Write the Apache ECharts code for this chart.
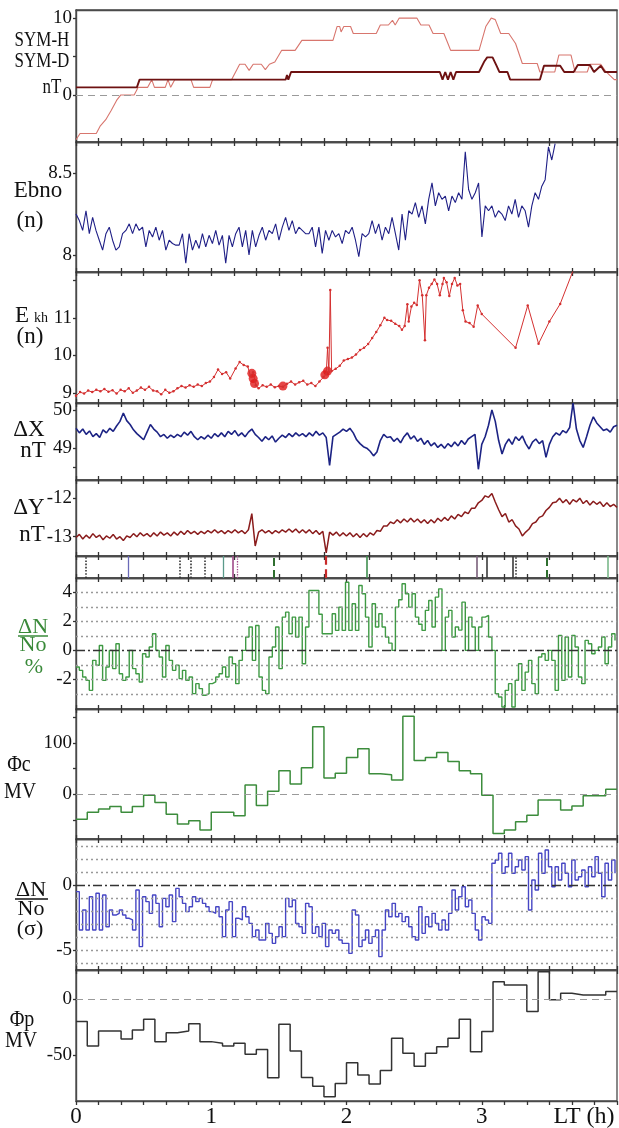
<!DOCTYPE html>
<html>
<head>
<meta charset="utf-8">
<script src="https://cdn.jsdelivr.net/npm/echarts@6/dist/echarts.min.js"></script>
<style>
  html, body { margin: 0; padding: 0; background: #fff; }
  #chart { width: 619px; height: 1128px; }
</style>
</head>
<body>
<div id="chart"></div>
<script>
// ---------- data (time in hours LT) ----------
const SYM_H = [[0,-5.8],[0.03,-5],[0.15,-5],[0.18,-4],[0.22,-3.2],[0.26,-2],[0.3,-0.7],[0.33,0],[0.43,0],[0.46,1],[0.53,1],[0.56,2],[0.58,1],[0.66,1],[0.68,2],[0.7,1],[0.73,2],[0.85,2],[0.87,1],[0.99,1],[1.01,2],[1.15,2],[1.18,3],[1.21,4],[1.25,4],[1.28,3.2],[1.31,4],[1.37,4],[1.4,3.3],[1.43,4],[1.47,4.3],[1.52,5.8],[1.62,5.8],[1.67,7.1],[1.9,7.1],[1.93,8.9],[1.95,8.9],[1.96,8.2],[1.98,8.9],[2.03,8.9],[2.05,8],[2.22,8],[2.25,9.1],[2.31,9.1],[2.34,9.7],[2.36,9.1],[2.39,10],[2.52,10],[2.55,9.1],[2.61,9.1],[2.64,8],[2.72,8],[2.75,6.7],[2.77,5.8],[2.98,5.8],[3.03,8.9],[3.07,10],[3.1,9.8],[3.14,8],[3.2,8],[3.25,6.7],[3.3,4.1],[3.41,4.1],[3.43,3],[3.54,3],[3.57,5.2],[3.66,5.2],[3.69,3],[3.78,3],[3.8,4],[3.88,4],[3.92,3],[3.98,2],[4,2]];
const SYM_D = [[0,1],[0.45,1],[0.47,2],[1.55,2],[1.56,2.6],[1.57,2],[1.59,3],[2.69,3],[2.71,2],[2.73,3],[2.75,2],[2.77,3],[2.79,2],[2.81,3],[2.98,3],[3.02,4.4],[3.04,4.9],[3.08,4.9],[3.11,3.8],[3.13,3],[3.19,3],[3.21,2],[3.43,2],[3.46,3.8],[3.58,3.8],[3.61,3],[3.68,3],[3.71,3.9],[3.8,3.9],[3.83,3],[3.88,3.8],[3.91,3],[4,3]];

// sampled series: one value every SAMPLE_DT hours from 0
const SAMPLE_DT = 0.0246;
const EBNO = [8.25,8.21,8.15,8.27,8.13,8.23,8.15,8.09,8.03,8.13,8.17,8.09,8.03,8.05,8.13,8.15,8.19,8.13,8.19,8.15,
  8.17,8.05,8.15,8.11,8.17,8.09,8.15,8.03,8.09,8.07,8.06,8.06,8.13,7.95,8.13,8.03,8.09,8.04,8.13,8.05,
  8.12,8.07,8.15,8.06,8.12,7.95,8.12,8.05,8.13,8.17,8.05,8.15,8.00,8.15,8.05,8.12,8.17,8.09,8.15,8.13,
  8.19,8.09,8.17,8.23,8.15,8.21,8.13,8.17,8.15,8.13,
  8.13,8.17,8.05,8.17,8.01,8.15,8.09,8.15,8.11,8.13,8.07,8.15,8.13,8.17,8.09,7.99,8.13,8.11,8.13,8.21,
  8.13,8.19,8.09,8.17,8.13,8.23,8.13,8.03,8.25,8.09,8.27,8.25,8.32,8.23,8.30,8.19,8.34,8.44,8.30,8.38,
  8.34,8.36,8.27,8.36,8.32,8.38,8.34,8.63,8.40,8.34,8.38,8.44,8.11,8.30,8.27,8.30,8.23,8.27,8.25,8.21,
  8.30,8.25,8.34,8.23,8.30,8.27,8.17,8.30,8.38,8.34,8.42,8.46,8.66,8.58,8.68];

const EKH = [[0,8.92],[0.03,9.02],[0.06,8.98],[0.09,9.06],[0.12,9.02],[0.15,9.08],[0.18,9.04],[0.21,9.1],[0.24,9.03],[0.27,9.07],[0.3,8.98],[0.33,9.08],[0.36,9.04],[0.39,9.12],[0.42,9.0],[0.45,9.06],[0.48,9.14],[0.51,9.08],[0.54,9.16],[0.57,9.06],[0.6,9.04],[0.63,8.96],[0.66,9.08],[0.69,9.0],[0.72,9.04],[0.75,9.12],[0.78,9.18],[0.81,9.14],[0.84,9.2],[0.87,9.16],[0.9,9.22],[0.93,9.18],[0.96,9.26],[0.99,9.3],[1.02,9.42],[1.05,9.62],[1.08,9.5],[1.11,9.55],[1.14,9.38],[1.18,9.65],[1.21,9.82],[1.24,9.74],[1.27,9.7],[1.29,9.45],[1.31,9.55],[1.33,9.2],[1.35,9.12],[1.38,9.2],[1.41,9.16],[1.44,9.22],[1.47,9.15],[1.5,9.18],[1.53,9.16],[1.56,9.24],[1.59,9.3],[1.62,9.22],[1.65,9.28],[1.68,9.32],[1.71,9.22],[1.74,9.26],[1.77,9.18],[1.8,9.3],[1.83,9.42],[1.85,9.5],[1.86,10.2],[1.87,9.55],[1.88,11.74],[1.89,9.58],[1.92,9.64],[1.95,9.72],[1.98,9.86],[2.01,9.9],[2.04,9.94],[2.07,10.02],[2.1,10.14],[2.13,10.2],[2.16,10.3],[2.19,10.46],[2.22,10.62],[2.25,10.8],[2.28,11.0],[2.3,10.94],[2.33,10.92],[2.36,10.84],[2.39,10.78],[2.41,10.68],[2.43,10.78],[2.45,11.36],[2.46,10.9],[2.48,11.3],[2.5,11.4],[2.52,11.34],[2.54,12.0],[2.56,11.6],[2.58,10.4],[2.59,11.6],[2.61,11.8],[2.63,11.9],[2.65,12.02],[2.67,11.9],[2.69,11.6],[2.71,11.9],[2.72,12.06],[2.74,11.95],[2.76,11.58],[2.78,11.9],[2.8,12.06],[2.82,11.86],[2.84,11.9],[2.86,11.2],[2.88,10.9],[2.91,10.86],[2.94,10.76],[2.97,11.33],[3.0,11.1],[3.25,10.2],[3.34,11.33],[3.42,10.31],[3.5,10.9],[3.58,11.37],[3.68,12.3]];
const EKH_BLOBS = [[1.3,9.52],[1.31,9.38],[1.32,9.25],[1.53,9.18],[1.84,9.48],[1.86,9.58]];

// magnetometer, one value every MAG_DT hours from 0
const MAG_DT = 0.025;
const DELTA_X = [49.52,49.40,49.50,49.36,49.45,49.30,49.38,49.28,49.48,49.40,49.52,49.44,49.58,49.70,49.92,49.72,49.62,49.48,49.38,49.30,
  49.22,49.42,49.62,49.50,49.42,49.30,49.36,49.26,49.34,49.28,49.36,49.30,49.42,49.34,49.44,49.30,49.22,49.30,49.24,49.34,
  49.26,49.38,49.30,49.40,49.30,49.44,49.36,49.46,49.32,49.40,49.30,49.42,49.50,49.36,49.28,49.18,49.30,49.22,49.32,49.16,
  49.26,49.34,49.28,49.38,49.30,49.40,49.32,49.38,49.30,49.40,49.32,49.44,49.34,49.40,49.28,48.55,49.30,49.36,49.42,49.50,
  49.44,49.52,49.40,49.22,49.12,49.04,49.00,48.92,48.80,48.90,49.20,49.36,49.28,49.30,49.18,49.26,49.14,49.30,49.40,49.24,
  49.32,49.18,49.26,49.10,49.20,49.06,49.14,49.02,49.10,49.00,49.12,49.04,49.16,49.06,49.20,49.10,49.24,49.30,49.36,48.45,
  49.10,49.30,49.60,50.00,49.70,49.20,48.85,49.10,49.24,49.10,49.30,49.20,49.32,49.12,48.98,49.16,49.24,49.12,49.20,48.76,
  49.10,49.30,49.40,49.34,49.46,49.40,49.54,50.18,49.50,49.20,49.02,49.30,49.60,49.82,49.66,49.56,49.46,49.50,49.42,49.56,49.60];
const DELTA_Y = [-13.02,-12.94,-13.06,-12.96,-13.04,-12.92,-13.02,-12.96,-13.08,-12.98,-13.04,-12.94,-13.06,-13.00,-13.10,-12.98,-13.02,-12.92,-13.00,-12.90,
  -12.98,-12.92,-13.00,-12.90,-12.98,-12.88,-12.96,-12.90,-12.98,-12.88,-12.96,-12.86,-12.94,-12.84,-12.92,-12.86,-12.94,-12.86,-12.92,-12.84,
  -12.90,-12.82,-12.90,-12.84,-12.92,-12.84,-12.90,-12.82,-12.90,-12.84,-12.92,-12.82,-12.40,-13.24,-12.88,-12.82,-12.90,-12.84,-12.92,-12.84,
  -12.90,-12.82,-12.88,-12.80,-12.88,-12.80,-12.90,-12.82,-12.90,-12.82,-12.92,-12.84,-12.94,-12.86,-13.42,-12.88,-12.96,-12.88,-12.98,-12.90,
  -12.98,-12.90,-13.00,-12.92,-13.02,-12.92,-13.00,-12.90,-12.96,-12.84,-12.86,-12.72,-12.72,-12.62,-12.66,-12.56,-12.64,-12.54,-12.62,-12.52,
  -12.62,-12.54,-12.64,-12.56,-12.66,-12.56,-12.64,-12.52,-12.60,-12.50,-12.58,-12.46,-12.54,-12.42,-12.48,-12.36,-12.40,-12.26,-12.26,-12.12,
  -12.06,-11.94,-11.98,-11.88,-12.10,-12.30,-12.48,-12.40,-12.62,-12.56,-12.72,-12.80,-12.98,-12.88,-12.80,-12.66,-12.62,-12.50,-12.46,-12.32,
  -12.24,-12.12,-12.10,-12.00,-12.12,-12.04,-12.16,-12.04,-12.10,-12.00,-12.14,-12.06,-12.18,-12.08,-12.16,-12.10,-12.22,-12.12,-12.22,-12.16,-12.24];

// event marks in the strip
const EVENT_TIMES = [0.066, 0.386, 0.768, 0.854, 0.952, 1.087, 1.156, 1.186, 1.456, 1.85, 2.15, 2.96, 3.04, 3.225, 3.245, 3.48, 3.93];
const EVENT_KINDS = ['q', 'b', 'q', 'q', 'q', 't', 'm', 'mq', 'g', 'r', 'G', 'p', 'k', 'k', 'q', 'g', 'G2'];

const DN_PCT = [-1.15,-1.38,-1.84,-2.07,-2.76,-0.69,-1.03,0.34,-2.07,-1.15,
  0,-1.26,0.46,-1.61,-2.07,-1.84,0,-1.26,-1.61,-2.18,
  -0.23,-0.46,0.23,1.15,0,-0.46,-1.84,0.34,-0.69,-1.38,
  -1.03,-1.95,-1.38,-2.07,-1.84,-2.99,-2.3,-2.64,-3.1,-2.99,
  -2.3,-2.18,-1.84,-1.61,-1.15,-1.84,-0.46,-0.92,-2.3,-0.69,
  0,0.92,1.61,-0.69,1.72,-1.84,-2.76,-2.99,-0.46,0.23,
  1.61,-1.26,2.3,2.64,1.15,2.3,0.92,2.3,-0.92,1.61,
  4.14,4.14,4.14,2.5,1.15,1.15,1.15,2.53,1.38,2.99,
  1.38,4.71,1.38,3.22,1.38,4.48,3.91,2.3,0.23,3.22,
  1.61,2.53,1.61,0.92,0.5,0,2.99,3.5,4.6,3.91,
  2.99,3.91,2.3,1.8,1.38,2.76,3.45,1.61,3.68,4.25,
  0,2.3,2.76,0.92,1.61,1.4,3.33,0,2.3,1.61,
  0,1.61,2.3,2.41,0.92,0,-2.99,-3.22,-3.91,-2.76,
  -2.3,-3.91,-2.07,-0.92,-2.76,-1.5,-0.69,-2.3,-2.99,-0.46,
  -0.23,-0.69,0,-0.69,-2.76,1.03,-2.07,0.92,-1.84,1.03,
  0.23,-1.84,-2.3,0.69,0.46,-0.23,0,0.23,0.92,-0.92,
  0.23,1.15,0.69];
const DN_SIGMA = [-0.51,-3.46,-1.92,-3.46,-0.90,-3.46,-0.64,-3.46,-0.77,-3.21,
  -1.92,-2.31,-2.18,-1.92,-2.31,-2.56,-2.69,-3.46,-0.38,-4.74,
  -0.90,-1.28,-2.18,-0.77,-1.41,-3.21,-1.03,-1.67,-0.77,-2.82,
  -0.26,-0.90,-1.41,-2.05,-1.67,-0.90,-1.28,-1.03,-1.41,-1.67,
  -2.05,-2.18,-1.67,-2.44,-3.97,-1.92,-1.28,-3.97,-2.56,-2.69,
  -1.67,-2.44,-2.95,-3.97,-3.46,-4.23,-4.23,-2.95,-3.72,-4.49,
  -3.97,-3.21,-3.97,-1.03,-1.67,-1.15,-2.95,-3.21,-3.72,-1.41,
  -1.67,-3.72,-3.21,-3.97,-2.95,-4.74,-3.46,-3.72,-3.46,-4.23,
  -4.49,-4.49,-5.26,-1.92,-2.31,-4.74,-4.23,-3.46,-4.49,-3.97,
  -3.46,-5.51,-3.46,-1.92,-2.44,-1.41,-2.44,-2.18,-2.82,-2.44,
  -3.21,-3.97,-4.23,-1.67,-3.72,-2.44,-3.21,-2.18,-2.95,-3.46,
  -2.69,-3.46,-2.18,-0.38,-1.92,-0.90,-0.13,-1.67,-1.15,-2.18,
  -3.46,-4.23,-2.44,-2.69,-2.95,1.67,1.92,2.44,0.90,1.41,
  2.44,0.90,1.41,1.92,1.15,2.18,-1.92,0.38,-0.38,2.44,
  0.90,2.69,1.41,-0.13,1.41,0.38,1.67,0.90,-0.13,1.92,
  0.38,0.64,1.15,-0.13,1.41,0.64,2.18,0.90,-0.90,1.67,
  0.38,1.92,0.90];

// potentials, one value per 5-minute step
const STEP_H = 1 / 12;
const PHI_C = [-49,-35,-29,-24,-35,-24,-2,-16,-39,-58,-52,-70,-35,-35,-42,18,-22,6,46,20,52,132,32,41,
  72,89,40,38,28,153,66,72,82,64,46,40,-2,-77,-70,-54,-41,-11,-11,-31,-23,-3,-3,10];
const PHI_P = [-20,-42,-28.5,-28.5,-35.7,-27.6,-18,-38,-30,-28.5,-22,-38,-39.5,-42,-39.5,-49.4,-45,-70.4,-22.5,-46.4,-70.2,-78,-87.5,-75.7,
  -57,-68,-76,-64,-35,-48.5,-60,-48.5,-42.6,-35,-18,-47,-29,15.8,12.8,12.8,-11,24.8,-0.5,5.4,3.9,3.9,3.9,6.9];

const DN_PCT_LEVELS = [-3, -2, -1, 1, 2, 3, 4];
const DN_SIGMA_LEVELS = [-6, -5, -4, -3, -2, -1, 1, 2, 3];
const X_LABELS = [0, 1, 2, 3];

// ---------- layout ----------
const serif = '"Liberation Serif", "DejaVu Serif", serif';
const LEFT = 76, WIDTH = 541;
const X_TICKS = [];
for (let i = 0; i <= 24; i++) X_TICKS.push(i / 6);

const PANELS = [
  { top: 10,  h: 132, min: -6.1,   max: 11.05,  ticks: [0, 5, 10],              labels: [0, 10] },
  { top: 142, h: 130, min: 7.896,  max: 8.69,   ticks: [8, 8.5],                labels: [8, 8.5] },
  { top: 272, h: 131, min: 8.73,   max: 12.22,  ticks: [9, 10, 11, 12],         labels: [9, 10, 11] },
  { top: 403, h: 77,  min: 48.17,  max: 50.18,  ticks: [48.5, 49, 50],          labels: [49, 50] },
  { top: 480, h: 76,  min: -13.5,  max: -11.53, ticks: [-13, -12],              labels: [-13, -12] },
  { top: 556, h: 22,  min: 0,      max: 1,      ticks: [],                      labels: [] },
  { top: 578, h: 131, min: -4.05,  max: 5,      ticks: [-2, 0, 2, 4],           labels: [-2, 0, 2, 4] },
  { top: 709, h: 130, min: -87.6,  max: 167,    ticks: [-50, 0, 50, 100, 150],  labels: [0, 100] },
  { top: 839, h: 131, min: -6.54,  max: 3.54,   ticks: [-5, 0],                 labels: [-5, 0] },
  { top: 970, h: 131, min: -91.3,  max: 26.3,   ticks: [-50, 0],                labels: [-50, 0] }
];

const AXIS_COLOR = '#4a4a4a';
const tickStyle = { color: '#333', width: 1.3 };
const axisLine = { show: true, onZero: false, lineStyle: { color: AXIS_COLOR, width: 1.4 } };
const grids = [], xAxes = [], yAxes = [];
PANELS.forEach((p, i) => {
  grids.push({
    left: LEFT, width: WIDTH, top: p.top, height: p.h,
    show: true, borderColor: AXIS_COLOR, borderWidth: 1.3, outerBoundsMode: 'none'
  });
  const last = i === PANELS.length - 1;
  xAxes.push({
    gridIndex: i, type: 'value', min: 0, max: 4, position: 'bottom',
    axisLine: axisLine, splitLine: { show: false },
    axisTick: { show: true, inside: !last, length: 4, customValues: X_TICKS, lineStyle: tickStyle },
    axisLabel: last
      ? { show: true, customValues: X_LABELS, fontFamily: serif, fontSize: 23, color: '#111', margin: 4 }
      : { show: false }
  });
  xAxes.push({
    gridIndex: i, type: 'value', min: 0, max: 4, position: 'top',
    axisLine: axisLine, splitLine: { show: false },
    axisTick: { show: i > 0, inside: true, length: 4, customValues: X_TICKS, lineStyle: tickStyle },
    axisLabel: { show: false }
  });
  yAxes.push({
    gridIndex: i, type: 'value', min: p.min, max: p.max,
    axisLine: axisLine, splitLine: { show: false },
    axisTick: { show: p.ticks.length > 0, length: 3, customValues: p.ticks, lineStyle: tickStyle },
    axisLabel: { show: p.labels.length > 0, customValues: p.labels, fontFamily: serif, fontSize: 19, color: '#111', margin: 4 }
  });
});

const zeroDash = { color: '#9a9a9a', type: [7, 5], width: 1.2 };
function hLines(levels, style) {
  return levels.map(v => ({ yAxis: v, lineStyle: style }));
}
function markLines(data) {
  return { silent: true, symbol: 'none', label: { show: false }, animation: false, data: data };
}
const sampled = arr => arr.map((v, i) => [i * SAMPLE_DT, v]);
const magSampled = arr => arr.map((v, i) => [i * MAG_DT, v]);
const stepped = arr => arr.map((v, k) => [k * STEP_H, v]).concat([[4, arr[arr.length - 1]]]);

const EVENT_STYLE = {
  q:  { color: '#333333', type: 'dotted', width: 1.6 },
  b:  { color: '#6a6ab8', type: 'solid',  width: 1.3 },
  t:  { color: '#5a9a8a', type: 'solid',  width: 1.3 },
  m:  { color: '#a04a8a', type: 'solid',  width: 1.6 },
  mq: { color: '#a04a8a', type: 'dotted', width: 1.3 },
  g:  { color: '#2f6f2f', type: 'dashed', width: 2 },
  r:  { color: '#c82a2a', type: 'dashed', width: 2.2 },
  G:  { color: '#3f8f4f', type: 'solid',  width: 1.6 },
  G2: { color: '#7ab88a', type: 'solid',  width: 1.6 },
  p:  { color: '#7a607a', type: 'solid',  width: 1.6 },
  k:  { color: '#3a3a3a', type: 'solid',  width: 1.6 }
};

function line(idx, data, color, width, extra) {
  return Object.assign({
    type: 'line', xAxisIndex: idx * 2, yAxisIndex: idx, data: data,
    showSymbol: false, clip: true, lineStyle: { color: color, width: width },
    itemStyle: { color: color }
  }, extra || {});
}

const series = [
  line(0, SYM_H, '#d8766e', 1.1, { markLine: markLines(hLines([0], zeroDash)) }),
  line(0, SYM_D, '#6e1212', 1.9),
  line(1, sampled(EBNO), '#1f1f86', 1.1),
  line(2, EKH, '#d43030', 1, { showSymbol: true, symbol: 'circle', symbolSize: 2.5 }),
  { type: 'scatter', xAxisIndex: 4, yAxisIndex: 2, data: EKH_BLOBS, symbolSize: 9, itemStyle: { color: '#e01818' } },
  line(3, magSampled(DELTA_X), '#1c2384', 1.6),
  line(4, magSampled(DELTA_Y), '#8a1c1c', 1.5),
  {
    type: 'scatter', xAxisIndex: 10, yAxisIndex: 5, symbolSize: 0,
    data: EVENT_TIMES.map(t => [t, 0.5]),
    markLine: markLines(EVENT_TIMES.map((t, i) => ({ xAxis: t, lineStyle: EVENT_STYLE[EVENT_KINDS[i]] })))
  },
  line(6, sampled(DN_PCT), '#3f9a44', 1.4, {
    step: 'end',
    markLine: markLines(hLines(DN_PCT_LEVELS, { color: '#999', type: [2, 3], width: 1.3 })
      .concat(hLines([0], { color: '#333', type: [9, 3, 2, 3], width: 1.4 })))
  }),
  line(7, stepped(PHI_C), '#3c8c3c', 1.5, { step: 'end', markLine: markLines(hLines([0], zeroDash)) }),
  line(8, sampled(DN_SIGMA), '#4646c4', 1.4, {
    step: 'end',
    markLine: markLines(hLines(DN_SIGMA_LEVELS, { color: '#999', type: [2, 3], width: 1.3 })
      .concat(hLines([0], { color: '#333', type: [9, 3, 2, 3], width: 1.4 })))
  }),
  line(9, stepped(PHI_P), '#333333', 1.5, { step: 'end', markLine: markLines(hLines([0], zeroDash)) })
];

// ---------- panel titles ----------
function txt(x, y, text, size, fill, sy) {
  return {
    type: 'text', x: x, y: y, scaleY: sy || 1, z: 10,
    style: {
      text: text, font: size + 'px ' + serif, fill: fill || '#111',
      align: 'center', verticalAlign: 'middle', textAlign: 'center', textVerticalAlign: 'middle'
    }
  };
}
function rule(x1, x2, y, color) {
  return { type: 'line', z: 10, shape: { x1: x1, y1: y, x2: x2, y2: y }, style: { stroke: color, lineWidth: 1.5 } };
}
const GREEN = '#3a8a3a';
const graphics = [
  txt(42, 41, 'SYM-H', 17, '#111', 1.2),
  txt(42, 62, 'SYM-D', 17, '#111', 1.2),
  txt(52, 88, 'nT', 17, '#111', 1.2),
  txt(38, 191, 'Ebno', 23),
  txt(30, 221, '(n)', 23),
  txt(22, 316, 'E', 23),
  txt(41, 318, 'kh', 14),
  txt(30, 337, '(n)', 23),
  txt(29, 430, '\u0394X', 23),
  txt(33, 451, 'nT', 23),
  txt(29, 508, '\u0394Y', 23),
  txt(32, 535, 'nT', 23),
  txt(33, 627, '\u0394N', 22, GREEN),
  rule(18, 48, 636, GREEN),
  txt(33, 645, 'No', 22, GREEN),
  txt(34, 667, '%', 22, GREEN),
  txt(19, 765, '\u03A6c', 20, '#111', 1.2),
  txt(20, 792, 'MV', 20, '#111', 1.2),
  txt(31, 890, '\u0394N', 22),
  rule(15, 48, 899, '#111'),
  txt(31, 909, 'No', 22),
  txt(30, 929, '(\u03C3)', 22),
  txt(22, 1020, '\u03A6p', 20, '#111', 1.2),
  txt(21, 1041, 'MV', 20, '#111', 1.2),
  txt(584, 1117, 'LT (h)', 24)
];

const chart = echarts.init(document.getElementById('chart'), null, { renderer: 'canvas' });
chart.setOption({
  backgroundColor: '#fff',
  animation: false,
  grid: grids,
  xAxis: xAxes,
  yAxis: yAxes,
  series: series,
  graphic: graphics
});
</script>
</body>
</html>
